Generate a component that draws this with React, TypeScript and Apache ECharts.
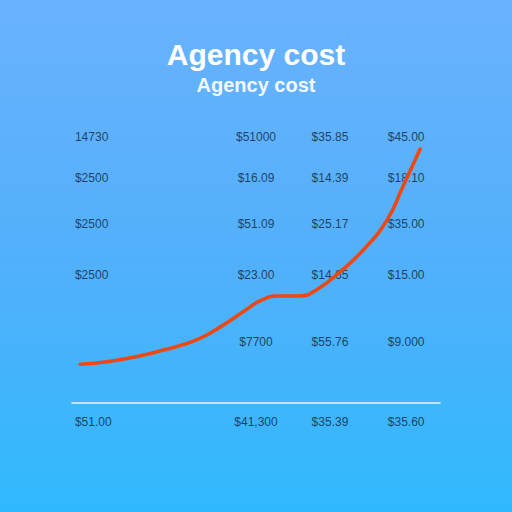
import React, { useEffect, useRef } from "react";
import * as echarts from "echarts";

const titleText = "Agency cost";
const subtitleText = "Agency cost";

// Agency cost curve (x: period index, y: cost)
const costX = [0.22, 1.0, 1.77, 2.6, 3.4, 4.02, 4.65, 5.11, 5.57, 6.2, 6.66, 7.28, 7.91, 8.56, 8.99, 9.46];
const costY = [7.1, 7.6, 8.5, 9.9, 11.6, 13.9, 16.7, 18.7, 19.6, 19.6, 20.8, 24.0, 28.0, 33.5, 39.6, 46.5];

// Table of figures printed over the chart
const columnKeys = [0.08, 5.0, 7.01, 9.08];
const rowLevels = [48.7, 41.2, 32.8, 23.4, 11.2, -3.5];
const tableRows = [
  ["14730", "$51000", "$35.85", "$45.00"],
  ["$2500", "$16.09", "$14.39", "$18.10"],
  ["$2500", "$51.09", "$25.17", "$35.00"],
  ["$2500", "$23.00", "$14.65", "$15.00"],
  ["", "$7700", "$55.76", "$9.000"],
  ["$51.00", "$41,300", "$35.39", "$35.60"],
];

export default function App() {
  const ref = useRef<HTMLDivElement>(null);
  useEffect(() => {
    if (!ref.current) return;
    const chart = echarts.init(ref.current, null, { renderer: "svg" });
    const lineData = costX.map((x, i) => [x, costY[i]]);
    const tableData: any[] = [];
    tableRows.forEach((row, r) => {
      row.forEach((txt, c) => {
        if (txt) tableData.push({ value: [columnKeys[c], rowLevels[r]], name: txt, col: c });
      });
    });
    chart.setOption({
      animation: false,
      backgroundColor: new echarts.graphic.LinearGradient(0, 0, 0, 1, [
        { offset: 0, color: "#6ab2ff" },
        { offset: 0.5, color: "#52b0fa" },
        { offset: 1, color: "#30b9fe" },
      ]),
      title: {
        text: titleText,
        subtext: subtitleText,
        left: "center",
        top: 34,
        itemGap: 6,
        textStyle: { color: "#ffffff", fontSize: 30, fontWeight: "bold", fontFamily: "Liberation Sans" },
        subtextStyle: { color: "#f2f8ff", fontSize: 20, fontWeight: "bold", fontFamily: "Liberation Sans" },
      },
      grid: { left: 72, right: 72, top: 130, bottom: 109 },
      xAxis: {
        type: "value",
        min: 0,
        max: 10,
        axisLine: { show: true, lineStyle: { color: "rgba(255,255,255,0.9)", width: 1.5 } },
        axisTick: { show: false },
        axisLabel: { show: false },
        splitLine: { show: false },
      },
      yAxis: {
        type: "value",
        min: 0,
        max: 50,
        axisLine: { show: false },
        axisTick: { show: false },
        axisLabel: { show: false },
        splitLine: { show: false },
      },
      series: [
        {
          type: "scatter",
          data: tableData.map((d) => ({
            value: d.value,
            name: d.name,
            label: {
              show: true,
              position: d.col === 0 ? "right" : "inside",
              distance: 0,
              formatter: d.name,
              color: "#0f1f3c",
              fontSize: 12,
              fontFamily: "Liberation Sans",
            },
          })),
          symbolSize: 0,
          clip: false,
          silent: true,
          z: 1,
        },
        {
          type: "line",
          data: lineData,
          smooth: 0.5,
          showSymbol: false,
          lineStyle: { color: "#ee4812", width: 3.6, cap: "round" },
          z: 3,
        },
      ],
    });
    return () => chart.dispose();
  }, []);
  return (
    <div
      ref={ref}
      style={{ position: "fixed", left: 0, top: 0, width: 512, height: 512 }}
    />
  );
}
